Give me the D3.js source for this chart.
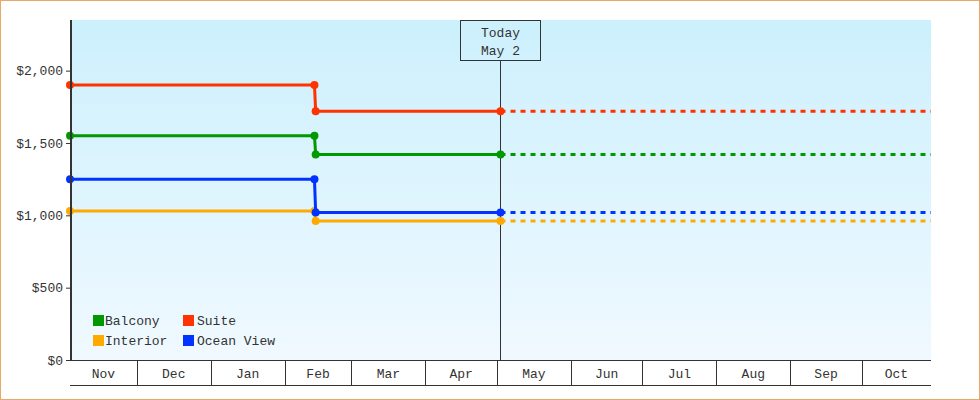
<!DOCTYPE html>
<html lang="en">
<head>
    <meta charset="UTF-8">
    <title>Cabin Prices</title>
    <script src="https://d3js.org/d3.v7.min.js"></script>
    <style>
        body { margin: 0; background: #fff; }
        text {
            font-family: "Liberation Mono", "DejaVu Sans Mono", monospace;
            font-size: 13px;
            fill: #333;
        }
        .line { fill: none; stroke-width: 3; }
        .future { fill: none; stroke-width: 3; stroke-dasharray: 5,5; }
    </style>
</head>
<body>
    <svg width="980" height="400"></svg>
    <script>
        // price history: dates of the points and one array per cabin type
        const dates = ["2022-11-03", "2023-02-13T12:00", "2023-02-14", "2023-05-02T12:00"];
        const today = "2023-05-02T12:00";
        const domainStart = "2022-11-03";
        const domainEnd = "2023-10-30";

        const balcony   = [1550, 1550, 1420, 1420];
        const suite     = [1900, 1900, 1720, 1720];
        const interior  = [1030, 1030,  960,  960];
        const oceanView = [1250, 1250, 1020, 1020];

        const seriesNames  = ["Balcony", "Suite", "Interior", "Ocean View"];
        const seriesColors = ["#009900", "#ff3300", "#ffaa00", "#0033ff"];
        const monthLabels  = ["Nov", "Dec", "Jan", "Feb", "Mar", "Apr", "May", "Jun", "Jul", "Aug", "Sep", "Oct"];
        const yTicks = [0, 500, 1000, 1500, 2000];
        const todayLabel = ["Today", "May 2"];

        const parse = s => new Date(s.length > 10 ? s + "Z" : s + "T00:00Z");

        const svg = d3.select("svg"),
              pLeft = 70, pRight = 931, pTop = 20, pBottom = 360;

        const x = d3.scaleUtc().domain([parse(domainStart), parse(domainEnd)]).range([pLeft, pRight]),
              y = d3.scaleLinear().domain([0, 2350]).range([pBottom, pTop]);

        // outer frame
        svg.append("rect")
            .attr("x", 0.5).attr("y", 0.5).attr("width", 979).attr("height", 399)
            .attr("fill", "#fff").attr("stroke", "#e8a868");

        // plot background gradient
        const grad = svg.append("defs").append("linearGradient")
            .attr("id", "bg").attr("x1", 0).attr("y1", 0).attr("x2", 0).attr("y2", 1);
        grad.append("stop").attr("offset", "0%").attr("stop-color", "#ccf0fd");
        grad.append("stop").attr("offset", "100%").attr("stop-color", "#f0f9ff");

        svg.append("rect")
            .attr("x", pLeft).attr("y", pTop)
            .attr("width", pRight - pLeft).attr("height", pBottom - pTop)
            .attr("fill", "url(#bg)");

        // today marker
        const tx = Math.floor(x(parse(today))) + 0.5;
        svg.append("line")
            .attr("x1", tx).attr("x2", tx).attr("y1", pTop + 40).attr("y2", pBottom)
            .attr("stroke", "#333");
        svg.append("rect")
            .attr("x", tx - 40).attr("y", pTop + 0.5).attr("width", 80).attr("height", 40)
            .attr("fill", "none").attr("stroke", "#333");
        svg.selectAll(".today-label")
            .data(todayLabel)
            .join("text")
            .attr("class", "today-label")
            .attr("x", tx).attr("y", (d, i) => 37 + i * 18)
            .attr("text-anchor", "middle")
            .text(d => d);

        // series
        const series = [
            { name: "Balcony", values: balcony },
            { name: "Suite", values: suite },
            { name: "Interior", values: interior },
            { name: "Ocean View", values: oceanView }
        ];
        const drawOrder = ["Balcony", "Suite", "Interior", "Ocean View"];
        const color = d3.scaleOrdinal().domain(seriesNames).range(seriesColors);

        const line = d3.line()
            .x(d => x(d.date))
            .y(d => y(d.price));

        drawOrder.forEach(name => {
            const s = series.find(d => d.name === name);
            const pts = dates.map((d, i) => ({ date: parse(d), price: s.values[i] }));
            const last = pts[pts.length - 1];
            const g = svg.append("g");

            g.append("path")
                .datum([last, { date: parse(domainEnd), price: last.price }])
                .attr("class", "future")
                .attr("stroke", color(name))
                .attr("d", line);

            g.append("path")
                .datum(pts)
                .attr("class", "line")
                .attr("stroke", color(name))
                .attr("d", line);

            g.selectAll("circle")
                .data(pts)
                .join("circle")
                .attr("cx", d => x(d.date))
                .attr("cy", d => y(d.price))
                .attr("r", 4)
                .attr("fill", color(name));
        });

        // y axis
        const yAxis = svg.append("g")
            .attr("transform", "translate(" + (pLeft + 1) + ",0)")
            .call(d3.axisLeft(y).tickValues(yTicks).tickFormat(d3.format("$,")).tickSize(5).tickSizeOuter(0).tickPadding(3));
        yAxis.select(".domain").attr("stroke", "#333").attr("stroke-width", 2).attr("d", "M0," + pTop + "V" + pBottom);
        yAxis.selectAll(".tick line").attr("stroke", "#333");
        yAxis.selectAll("text").attr("font-family", null).attr("font-size", null).attr("fill", null);
        yAxis.attr("font-family", null).attr("font-size", null);

        // month axis
        const xa = svg.append("g");
        [pBottom + 0.5, pBottom + 25.5].forEach(yy => {
            xa.append("line")
                .attr("x1", pLeft).attr("x2", pRight).attr("y1", yy).attr("y2", yy)
                .attr("stroke", "#333");
        });
        const monthStarts = d3.utcMonth.range(d3.utcMonth.floor(x.domain()[0]), x.domain()[1]);
        const bands = monthStarts.map((m, i) => ({
            label: monthLabels[i],
            x0: Math.max(pLeft, x(m)),
            x1: Math.min(pRight, x(d3.utcMonth.offset(m, 1)))
        }));
        xa.selectAll(".sep")
            .data(bands.filter(b => b.x0 > pLeft))
            .join("line")
            .attr("class", "sep")
            .attr("x1", d => Math.round(d.x0) + 0.5).attr("x2", d => Math.round(d.x0) + 0.5)
            .attr("y1", pBottom).attr("y2", pBottom + 25)
            .attr("stroke", "#333");
        xa.selectAll("text")
            .data(bands)
            .join("text")
            .attr("x", d => (d.x0 + d.x1) / 2)
            .attr("y", pBottom + 18)
            .attr("text-anchor", "middle")
            .text(d => d.label);

        // legend
        const legend = svg.append("g").attr("transform", "translate(93,315)");
        const item = legend.selectAll("g")
            .data(seriesNames)
            .join("g")
            .attr("transform", (d, i) => "translate(" + (i % 2) * 90 + "," + Math.floor(i / 2) * 20 + ")");
        item.append("rect").attr("width", 11).attr("height", 11).attr("fill", d => color(d));
        item.append("text").attr("x", (d, i) => i % 2 ? 14 : 12).attr("y", 10).text(d => d);
    </script>
</body>
</html>
